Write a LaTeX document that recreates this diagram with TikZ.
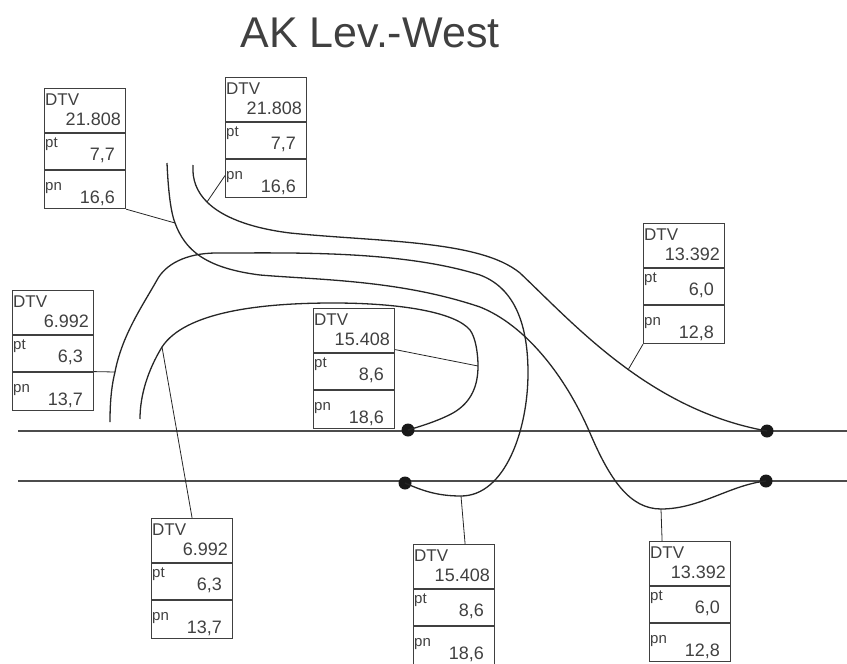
\documentclass[tikz,border=0pt]{standalone}
\usepackage{fontspec}
\setmainfont{Liberation Sans}
\definecolor{inkgrey}{gray}{0.25}
\tikzset{
  dtvbox/.style={draw=inkgrey,line width=1.2pt,rectangle,anchor=north west,minimum width=81pt,minimum height=120pt,inner sep=0pt},
  rowline/.style={draw=inkgrey,line width=1.2pt},
  cell/.style={text=inkgrey,inner sep=0pt,font=\fontsize{#1}{#1}\selectfont},
  track/.style={draw=black!70,line width=1.5pt},
  curve/.style={draw=black!85,line width=1.3pt},
  lead/.style={draw=black!85,line width=0.8pt},
  dot/.style={circle,fill=black!90,minimum size=13pt,inner sep=0pt}
}
\begin{document}
\begin{tikzpicture}[x=1pt,y=-1pt]
\useasboundingbox (0,0) rectangle (847,664);
\node[cell=43,anchor=base] (title) at (370,47) {AK Lev.-West};
% tracks
\coordinate (t1l) at (18,431);
\coordinate (t1r) at (847,431);
\coordinate (t2l) at (18,481);
\coordinate (t2r) at (847,481);
\draw[track] (t1l) -- (t1r);
\draw[track] (t2l) -- (t2r);
\node[dot] (d1) at (408,430) {};
\node[dot] (d2) at (767,431) {};
\node[dot] (d3) at (405,483) {};
\node[dot] (d4) at (766,481) {};
% boxes
\foreach \name/\x/\y/\val/\ptval/\pnval in %
{a/44/88/21.808/{7,7}/{16,6},b/225/77/21.808/{7,7}/{16,6},c/12/290/6.992/{6,3}/{13,7},%
d/313/308/15.408/{8,6}/{18,6},e/643/223/13.392/{6,0}/{12,8},f/151/518/6.992/{6,3}/{13,7},%
g/413/544/15.408/{8,6}/{18,6},h/649/541/13.392/{6,0}/{12,8}} {
   \node[dtvbox] (box\name) at (\x,\y) {};
   \draw[rowline] (\x,\y+45) -- (\x+81,\y+45);
   \draw[rowline] (\x,\y+82) -- (\x+81,\y+82);
   \node[cell=17,anchor=base west] (dtv\name) at (\x+1,\y+17) {DTV};
   \node[cell=18,anchor=base east] (val\name) at (\x+77,\y+37) {\val};
   \node[cell=15,anchor=base west] (pt\name) at (\x+1,\y+59) {pt};
   \node[cell=18,anchor=base east] (ptv\name) at (\x+71,\y+72) {\ptval};
   \node[cell=15,anchor=base west] (pn\name) at (\x+1,\y+102) {pn};
   \node[cell=18,anchor=base east] (pnv\name) at (\x+71,\y+115) {\pnval};
}
% curves
\coordinate (cb) at (207,202);
\coordinate (ca) at (175,223);
\coordinate (cc) at (115,372);
\coordinate (cf) at (162,347);
\coordinate (cd) at (478,366);
\coordinate (ce) at (628,370);
\coordinate (cg) at (461,496);
\coordinate (ch) at (661,509);
\draw[curve] (193,165) .. controls (192,180) and (197,192) .. (cb)
   .. controls (222,217) and (250,228) .. (290,233)
   .. controls (380,242) and (480,240) .. (520,273)
   .. controls (575,325) and (650,410) .. (d2.center);
\draw[curve] (167,163) .. controls (168,185) and (170,210) .. (ca)
   .. controls (185,250) and (205,268) .. (260,275)
   .. controls (320,280) and (400,280) .. (480,307)
   .. controls (525,325) and (565,375) .. (590,433)
   .. controls (610,480) and (630,509) .. (ch)
   .. controls (700,509) and (730,485) .. (d4.center);
\draw[curve] (110,422) .. controls (110,405) and (111,388) .. (cc)
   .. controls (122,335) and (143,305) .. (157,280)
   .. controls (165,265) and (185,253) .. (217,253)
   .. controls (290,253) and (400,250) .. (480,275)
   .. controls (520,290) and (528,335) .. (528,373)
   .. controls (528,430) and (505,496) .. (cg)
   .. controls (440,496) and (425,492) .. (d3.center);
\draw[curve] (140,419) .. controls (140,395) and (148,370) .. (cf)
   .. controls (185,312) and (260,303) .. (333,303)
   .. controls (400,303) and (455,312) .. (470,330)
   .. controls (476,338) and (478,355) .. (cd)
   .. controls (478,385) and (472,402) .. (453,413)
   .. controls (440,420) and (425,425) .. (d1.center);
% leaders
\draw[lead] (boxa.south east) -- (ca);
\draw[lead] ([yshift=-38pt]boxb.west) -- (cb);
\draw[lead] ([yshift=-21pt]boxc.east) -- (cc);
\draw[lead] ([yshift=19pt]boxd.east) -- (cd);
\draw[lead] (boxe.south west) -- (ce);
\draw[lead] (boxf.north) -- (cf);
\draw[lead] ([xshift=11pt]boxg.north) -- (cg);
\draw[lead] ([xshift=-28pt]boxh.north) -- (ch);
\end{tikzpicture}
\end{document}
